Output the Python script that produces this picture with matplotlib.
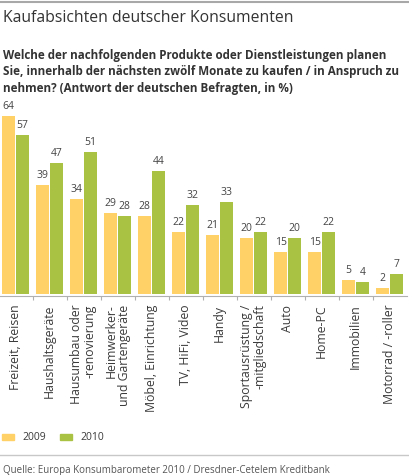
import numpy as np
import matplotlib
matplotlib.use('Agg')
import matplotlib.pyplot as plt
from matplotlib.patches import Rectangle
from matplotlib.lines import Line2D

# daten
kategorien = ['Freizeit, Reisen', 'Haushaltsgeräte', 'Hausumbau oder\n-renovierung',
              'Heimwerker-\nund Gartengeräte', 'Möbel, Einrichtung', 'TV, HiFi, Video',
              'Handy', 'Sportausrüstung /\n-mitgliedschaft', 'Auto', 'Home-PC',
              'Immobilien', 'Motorrad / -roller']
werte_2009 = [64, 39, 34, 29, 28, 22, 21, 20, 15, 15, 5, 2]
werte_2010 = [57, 47, 51, 28, 44, 32, 33, 22, 20, 22, 4, 7]
jahre = ['2009', '2010']

gelb = '#FFD166'
gruen = '#A9C244'
text_farbe = '#3a3a3a'

plt.rcParams['font.family'] = ['Open Sans', 'DejaVu Sans']

W, H = 409, 475
fig = plt.figure(figsize=(W / 100, H / 100), dpi=100)

def fy(px):
    return 1 - px / H

# linien oben und unten
fig.add_artist(Line2D([0, 1], [fy(1.5), fy(1.5)], color='#a8a8a8', lw=1.5))
fig.add_artist(Line2D([0, 1], [fy(455), fy(455)], color='#c8c8c8', lw=1))

# titel
fig.text(3 / W, fy(18), 'Kaufabsichten deutscher Konsumenten', fontsize=11.3,
         color='#333333', va='center', ha='left')
fig.text(3 / W, fy(72), 'Welche der nachfolgenden Produkte oder Dienstleistungen planen\n'
         'Sie, innerhalb der nächsten zwölf Monate zu kaufen / in Anspruch zu\n'
         'nehmen? (Antwort der deutschen Befragten, in %)', fontsize=8.4,
         fontweight='bold', color='#333333', va='center', ha='left', linespacing=1.38)

# achse
ax_l, ax_r = 0, 407
y_base, px_per = 293.5, 2.78
ymax = 70
ax = fig.add_axes([ax_l / W, fy(y_base), (ax_r - ax_l) / W, ymax * px_per / H])

x = np.arange(len(kategorien))
b = 0.385
ax.bar(x - 0.2, werte_2009, b, color=gelb)
ax.bar(x + 0.2, werte_2010, b, color=gruen)

for xi, v1, v2 in zip(x, werte_2009, werte_2010):
    ax.text(xi - 0.2, v1 + 1.4, str(v1), ha='center', va='bottom', fontsize=7.5, color='#444444')
    ax.text(xi + 0.2, v2 + 1.4, str(v2), ha='center', va='bottom', fontsize=7.5, color='#444444')

ax.set_xlim(-15.5 / 34, (ax_r - 15.5) / 34)
ax.set_ylim(0, ymax)
for s in ['top', 'right', 'left']:
    ax.spines[s].set_visible(False)
ax.spines['bottom'].set_position(('outward', 2))
ax.spines['bottom'].set_color('#b0b0b0')
ax.set_yticks([])
ax.set_xticks(x[:-1] + 0.5)
ax.set_xticklabels([])
ax.tick_params(axis='x', length=3, color='#b0b0b0', width=0.8)

for xi, k in zip(x, kategorien):
    ax.text(xi, -4.0, k, rotation=90, ha='center', va='top', multialignment='right',
            fontsize=8.8, color=text_farbe, linespacing=1.02)

# legende
fig.patches.append(Rectangle((2 / W, fy(440)), 12 / W, 6 / H, color=gelb, transform=fig.transFigure))
fig.text(22 / W, fy(437), jahre[0], fontsize=7.5, color=text_farbe, va='center')
fig.patches.append(Rectangle((60 / W, fy(440)), 12 / W, 6 / H, color=gruen, transform=fig.transFigure))
fig.text(80 / W, fy(437), jahre[1], fontsize=7.5, color=text_farbe, va='center')

# quelle
fig.text(3 / W, fy(470), 'Quelle: Europa Konsumbarometer 2010 / Dresdner-Cetelem Kreditbank',
         fontsize=7.05, color='#555555', va='center')

fig.savefig('out.png', dpi=100)
